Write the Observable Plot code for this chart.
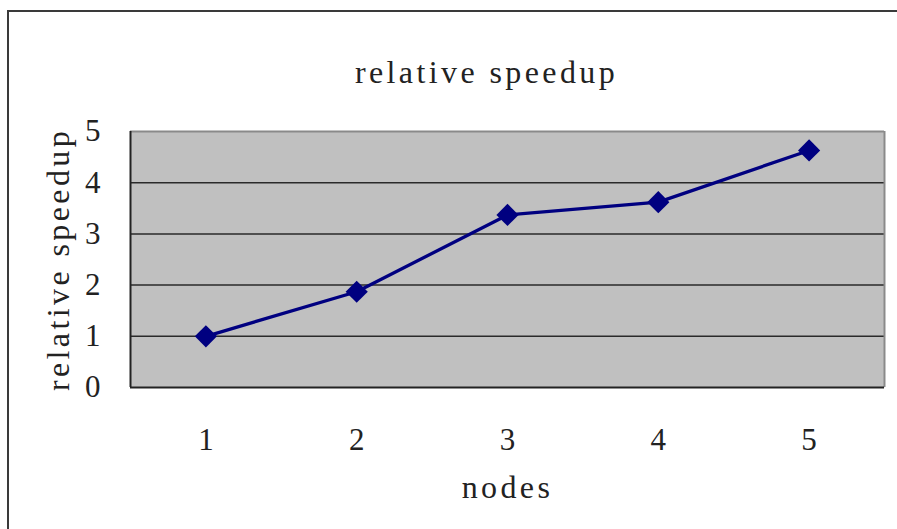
<!DOCTYPE html>
<html>
<head>
<meta charset="utf-8">
<script src="https://cdn.jsdelivr.net/npm/d3@7"></script>
<script src="https://cdn.jsdelivr.net/npm/@observablehq/plot@0.6"></script>
<style>
  html, body { margin: 0; padding: 0; background: #fff; overflow: hidden; }
  #wrap { position: relative; width: 897px; height: 529px; }
  #border { position: absolute; left: 7px; top: 10px; width: 1000px; height: 1000px;
            border-top: 2px solid #3a3a3a; border-left: 2px solid #3a3a3a; box-sizing: border-box; }
  #chart { position: absolute; left: 0; top: 0; }
  .spaced text { letter-spacing: 3.4px; }
</style>
</head>
<body>
<div id="wrap"><div id="border"></div><div id="chart"></div></div>
<script>
const nodes = [1, 2, 3, 4, 5];
const speedup = [1.0, 1.87, 3.37, 3.62, 4.63];
const yTicks = [0, 1, 2, 3, 4, 5];
const gridValues = [1, 2, 3, 4];
const titleText = "relative speedup";
const xLabel = "nodes";
const yLabel = "relative speedup";

const data = nodes.map((n, i) => ({ nodes: n, speedup: speedup[i] }));
const font = "'Liberation Serif', 'Times New Roman', serif";
const fmt = d => String(d);

const chart = Plot.plot({
  width: 897,
  height: 529,
  marginLeft: 130,
  marginRight: 13,
  marginTop: 131,
  marginBottom: 142,
  style: { background: "transparent", fontFamily: font, fontSize: "31px", color: "#222" },
  x: { domain: [0.5, 5.5], label: null },
  y: { domain: [0, 5], label: null },
  marks: [
    Plot.frame({ fill: "#c0c0c0", stroke: "none" }),
    Plot.ruleY(gridValues, { stroke: "#2a2a2a", strokeWidth: 1.5 }),
    Plot.ruleY([5], { stroke: "#8a8a8a", strokeWidth: 2 }),
    Plot.ruleX([5.5], { stroke: "#8a8a8a", strokeWidth: 2 }),
    Plot.ruleY([0], { stroke: "#222", strokeWidth: 2 }),
    Plot.ruleX([0.5], { stroke: "#222", strokeWidth: 2 }),
    Plot.axisX({ ticks: nodes, tickFormat: fmt, tickSize: 0, tickPadding: 40, label: null, fontSize: 31, fill: "#222" }),
    Plot.axisY({ ticks: yTicks, tickFormat: fmt, tickSize: 0, tickPadding: 30, label: null, fontSize: 31, fill: "#222" }),
    Plot.line(data, { x: "nodes", y: "speedup", stroke: "#000080", strokeWidth: 3.3 }),
    Plot.dot(data, { x: "nodes", y: "speedup", symbol: "diamond2", r: 10, fill: "#000080", stroke: "none" }),
    Plot.text([titleText], { frameAnchor: "top", dy: -59, dx: -21, fontSize: 32, fill: "#222",
      text: d => d, lineAnchor: "middle", className: "spaced" }),
    Plot.text([xLabel], { frameAnchor: "bottom", dy: 100, fontSize: 32, fill: "#222",
      text: d => d, lineAnchor: "middle", className: "spaced" }),
    Plot.text([yLabel], { frameAnchor: "left", dx: -72, rotate: -90, fontSize: 32, fill: "#222",
      textAnchor: "middle", text: d => d, lineAnchor: "middle", className: "spaced" })
  ]
});
document.getElementById("chart").appendChild(chart);
</script>
</body>
</html>
